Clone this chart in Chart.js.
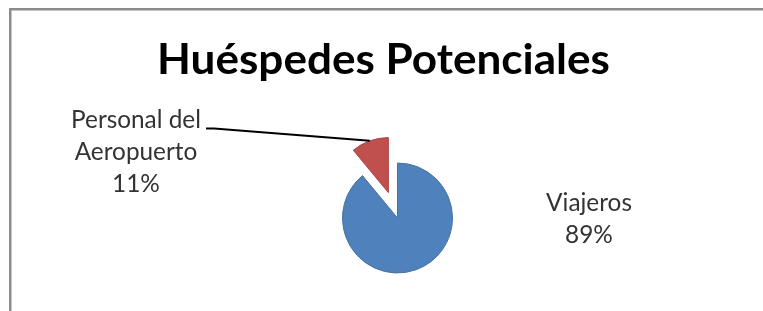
<!DOCTYPE html>
<html lang="es">
<head>
<meta charset="UTF-8">
<title>Huéspedes Potenciales</title>
<script src="https://cdn.jsdelivr.net/npm/chart.js"></script>
<style>
  body { margin: 0; background: #fff; overflow: hidden; }
  canvas { display: block; }
</style>
</head>
<body>
<canvas id="pieChart" width="763" height="311"></canvas>
<script>
  // datos del gráfico
  const chartTitle = 'Huéspedes Potenciales';
  const categories = ['Viajeros', 'Personal del Aeropuerto'];
  const values = [89, 11];

  // estilo
  const sliceColors = ['#4f81bd', '#c0504d'];
  const edgeColors = ['#46729f', '#a94643'];
  const explode = [0, 27];                                    // px, porción separada
  const labelAnchors = [{x: 589, y: 211}, {x: 136, y: 128}];  // centro / primera línea base
  const FONT = 'Lato, "Liberation Sans", sans-serif';
  const LINE_H = 32;

  function fitSize(ctx, text, width, weight) {
    ctx.font = weight + ' 100px ' + FONT;
    return 100 * width / ctx.measureText(text).width;
  }

  // escala vertical para igualar la altura de mayúsculas
  function capScale(ctx, capH) {
    return capH / ctx.measureText('H').actualBoundingBoxAscent;
  }

  function wrap(ctx, text, maxWidth) {
    const words = text.split(' ');
    const lines = [];
    let cur = '';
    words.forEach(w => {
      const test = cur ? cur + ' ' + w : w;
      if (cur && ctx.measureText(test).width > maxWidth) {
        lines.push(cur);
        cur = w;
      } else {
        cur = test;
      }
    });
    if (cur) lines.push(cur);
    return lines;
  }

  function stretchedText(ctx, text, x, y, sy) {
    ctx.save();
    ctx.translate(x, y);
    ctx.scale(1, sy);
    ctx.fillText(text, 0, 0);
    ctx.restore();
  }

  // marco gris (arriba e izquierda)
  const framePlugin = {
    id: 'frame',
    beforeDraw(chart) {
      const c = chart.ctx;
      c.save();
      c.fillStyle = '#8c8c8c';
      c.fillRect(9, 8, chart.width - 9, 2.5);
      c.fillRect(9, 8, 2.5, chart.height - 8);
      c.restore();
    }
  };

  // dibuja las porciones, desplazando la separada
  const explodePlugin = {
    id: 'explode',
    beforeDatasetDraw(chart, args) {
      const c = chart.ctx;
      args.meta.data.forEach((arc, i) => {
        const d = explode[i] || 0;
        const mid = (arc.startAngle + arc.endAngle) / 2;
        c.save();
        c.translate(Math.cos(mid) * d, Math.sin(mid) * d);
        arc.draw(c);
        c.restore();
      });
      return false;
    }
  };

  // título, etiquetas y línea guía
  const labelPlugin = {
    id: 'labels',
    afterDraw(chart) {
      const c = chart.ctx;
      const meta = chart.getDatasetMeta(0);
      const total = values.reduce((a, b) => a + b, 0);
      c.save();
      c.textAlign = 'center';
      c.textBaseline = 'alphabetic';

      const ts = fitSize(c, chartTitle, 453, 'bold');
      c.font = 'bold ' + ts + 'px ' + FONT;
      c.fillStyle = '#000';
      stretchedText(c, chartTitle, 383.5, 74, capScale(c, 31));

      const ls = fitSize(c, 'Personal del', 130, 'normal');
      c.font = ls + 'px ' + FONT;
      c.fillStyle = '#333';
      categories.forEach((cat, i) => {
        const lines = wrap(c, cat, 140);
        lines.push(Math.round(values[i] / total * 100) + '%');
        const p = labelAnchors[i];
        lines.forEach((t, k) => c.fillText(t, p.x, p.y + k * LINE_H));
      });

      // línea guía hacia la porción separada
      const arc = meta.data[1];
      const mid = (arc.startAngle + arc.endAngle) / 2;
      const r = arc.outerRadius + explode[1];
      const ex = arc.x + Math.cos(mid) * r;
      const ey = arc.y + Math.sin(mid) * r;
      c.strokeStyle = '#000';
      c.lineWidth = 2;
      c.beginPath();
      c.moveTo(206, 128.5);
      c.lineTo(214, 128.5);
      c.lineTo(ex, ey);
      c.stroke();
      c.restore();
    }
  };

  const ctx = document.getElementById('pieChart').getContext('2d');
  const pieChart = new Chart(ctx, {
    type: 'pie',
    data: {
      labels: categories,
      datasets: [{
        data: values,
        backgroundColor: sliceColors,
        borderColor: edgeColors,
        borderWidth: 1
      }]
    },
    options: {
      responsive: false,
      animation: false,
      radius: 55,
      layout: { padding: { left: 32, right: 0, top: 125, bottom: 0 } },
      plugins: {
        legend: { display: false },
        tooltip: { enabled: false },
        title: { display: false }
      }
    },
    plugins: [framePlugin, explodePlugin, labelPlugin]
  });
</script>
</body>
</html>
